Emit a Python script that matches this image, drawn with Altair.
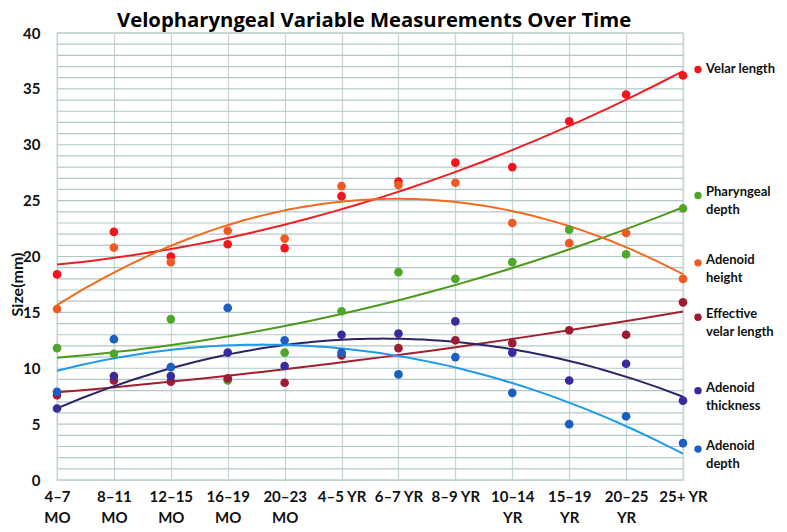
import altair as alt
import pandas as pd

categories = ["4–7|MO", "8–11|MO", "12–15|MO", "16–19|MO", "20–23|MO", "4–5 YR",
              "6–7 YR", "8–9 YR", "10–14|YR", "15–19|YR", "20–25|YR", "25+ YR"]

series_names = ["Velar length", "Pharyngeal depth", "Adenoid height",
                "Effective velar length", "Adenoid thickness", "Adenoid depth"]
legend_text = ["Velar length", "Pharyngeal\ndepth", "Adenoid\nheight",
               "Effective\nvelar length", "Adenoid\nthickness", "Adenoid\ndepth"]

velar_length = [18.4, 22.2, 20.0, 21.1, 20.75, 25.4, 26.7, 28.4, 28.0, 32.1, 34.5, 36.2]
pharyngeal_depth = [11.8, 11.3, 14.4, 8.9, 11.4, 15.1, 18.6, 18.0, 19.5, 22.4, 20.2, 24.3]
adenoid_height = [15.3, 20.8, 19.5, 22.3, 21.6, 26.3, 26.4, 26.6, 23.0, 21.2, 22.1, 18.0]
effective_velar = [7.6, 8.9, 8.8, 9.1, 8.7, 11.15, 11.8, 12.5, 12.25, 13.4, 13.0, 15.9]
adenoid_thickness = [6.4, 9.3, 9.3, 11.4, 10.2, 13.0, 13.1, 14.2, 11.4, 8.9, 10.4, 7.1]
adenoid_depth = [7.9, 12.6, 10.1, 15.4, 12.5, 11.4, 9.45, 11.0, 7.8, 5.0, 5.7, 3.3]

# horizontal gridlines (mm) and labelled y ticks
y_grid_values = list(range(0, 41))
y_tick_values = [0, 5, 10, 15, 20, 25, 30, 35, 40]

values = [velar_length, pharyngeal_depth, adenoid_height,
          effective_velar, adenoid_thickness, adenoid_depth]

dot_colors = ["#f5141c", "#4ea72a", "#ef5a23", "#9e1b32", "#3a2a9c", "#1b5fc2"]
line_colors = ["#f01e24", "#4c9a1a", "#f26a1b", "#a0202e", "#2d2466", "#1e9be8"]
# pixel nudges of the legend entries relative to each series' last point
legend_nudge = [-6, -13, -16, 15, -10, 6]

rows = []
for name, vals in zip(series_names, values):
    for i, v in enumerate(vals):
        rows.append({"x": i + 1, "series": name, "value": v})
df = pd.DataFrame(rows)

leg = pd.DataFrame({
    "series": series_names,
    "label": legend_text,
    "value": [v[-1] for v in values],
    "off": legend_nudge,
})
grid_df = pd.DataFrame({"g": y_grid_values})

W, H = 626, 447
PX_PER_UNIT = H / 40.0
label_arr = "[" + ",".join("'" + c + "'" for c in categories) + "]"
yscale = alt.Scale(domain=[0, 40], nice=False)

x_axis = alt.Axis(values=list(range(1, 13)), title=None,
                  labelExpr="split(" + label_arr + "[datum.value - 1], '|')",
                  labelFont="Lato", labelFontSize=15, labelFontWeight="bold",
                  labelColor="#111", labelPadding=9, labelLineHeight=21,
                  labelBaseline="top", labelOverlap=False, labelFlush=False,
                  ticks=False, domain=False, grid=True,
                  gridColor="#c6d7d6", gridWidth=1.3)
y_axis = alt.Axis(values=y_tick_values, title="Size(mm)",
                  labelFont="Lato", labelFontSize=15, labelFontWeight="bold",
                  labelColor="#111", labelPadding=17,
                  labelOverlap=False, labelFlush=False,
                  titleFont="Lato", titleFontSize=16, titleFontWeight="bold",
                  titleColor="#111", titleX=-32, titleY=251,
                  titleAngle=270, titleBaseline="bottom", titleAlign="center",
                  ticks=False, domain=False, grid=False)

x_enc = alt.X("x:Q", scale=alt.Scale(domain=[1, 12], nice=False, zero=False), axis=x_axis)
y_enc = alt.Y("value:Q", scale=yscale, axis=y_axis, title="Size(mm)")

grid = alt.Chart(grid_df).mark_rule(color="#b3c7c7", strokeWidth=1.2).encode(
    y=alt.Y("g:Q", scale=yscale, axis=y_axis, title="Size(mm)")
)

base = alt.Chart(df)

lines = base.transform_regression(
    "x", "value", groupby=["series"], method="poly", order=2, extent=[1, 12]
).mark_line(strokeWidth=2).encode(
    x=x_enc, y=y_enc,
    color=alt.Color("series:N", scale=alt.Scale(domain=series_names, range=line_colors),
                    legend=None),
)

points = base.mark_circle(size=75, opacity=1).encode(
    x=x_enc, y=y_enc,
    color=alt.Color("series:N", scale=alt.Scale(domain=series_names, range=dot_colors),
                    legend=None),
)

leg_base = alt.Chart(leg).transform_calculate(
    ly="datum.value - datum.off / " + str(PX_PER_UNIT)
)
leg_y = alt.Y("ly:Q", scale=yscale, axis=y_axis, title="Size(mm)")

leg_dots = leg_base.mark_circle(size=55, opacity=1).encode(
    x=alt.value(W + 15),
    y=leg_y,
    color=alt.Color("series:N", scale=alt.Scale(domain=series_names, range=dot_colors),
                    legend=None),
)

# multi-line labels: anchor first line at the dot
leg_text_multi = leg_base.transform_filter("indexof(datum.label, '\\n') >= 0").mark_text(
    align="left", baseline="top", font="Lato", fontSize=13, fontWeight="bold",
    color="#111", lineBreak="\n", lineHeight=18, dy=-9,
).encode(
    x=alt.value(W + 23),
    y=leg_y,
    text="label:N",
)
leg_text_single = leg_base.transform_filter("indexof(datum.label, '\\n') < 0").mark_text(
    align="left", baseline="middle", font="Lato", fontSize=13, fontWeight="bold",
    color="#111",
).encode(
    x=alt.value(W + 23),
    y=leg_y,
    text="label:N",
)

chart = alt.layer(grid, lines, points, leg_dots, leg_text_multi, leg_text_single).resolve_scale(
    color="independent"
).properties(
    width=W, height=H,
    title=alt.TitleParams("Velopharyngeal Variable Measurements Over Time",
                          font="Open Sans", fontSize=20.3, fontWeight="bold",
                          color="#000", anchor="start", dx=108, dy=5, offset=0),
    autosize=alt.AutoSizeParams(type="none"),
    padding={"left": 49, "top": 25, "right": 96, "bottom": 45},
).configure_view(stroke="#c6d7d6", strokeWidth=1.3)

chart.save("out.html", embed_options={"renderer": "svg", "actions": False})
